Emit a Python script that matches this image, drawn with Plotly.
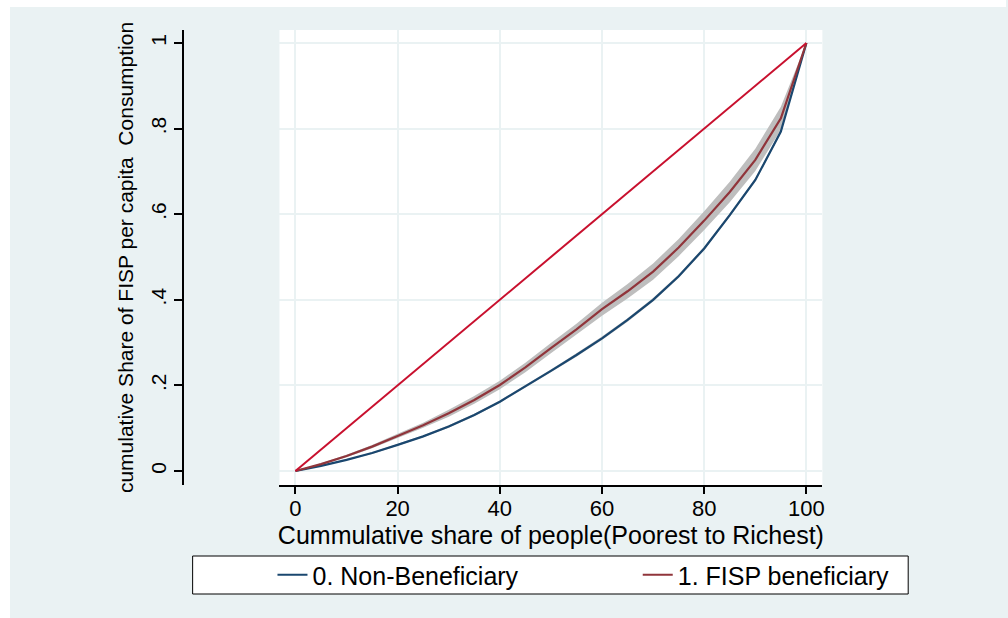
import plotly.graph_objects as go

# ---------------- data ----------------
pop_share = [0, 5, 10, 15, 20, 25, 30, 35, 40, 45, 50, 55, 60, 65, 70, 75, 80, 85, 90, 95, 100]

non_benef = [0, 0.012, 0.026, 0.042, 0.061, 0.081, 0.104, 0.131, 0.162, 0.197, 0.234,
             0.271, 0.310, 0.353, 0.400, 0.455, 0.520, 0.598, 0.680, 0.793, 1.0]
non_benef_lo = [0, 0.011, 0.025, 0.040, 0.059, 0.079, 0.101, 0.128, 0.159, 0.194, 0.231,
                0.267, 0.306, 0.349, 0.396, 0.451, 0.516, 0.594, 0.676, 0.789, 1.0]
non_benef_hi = [0, 0.013, 0.027, 0.044, 0.063, 0.083, 0.107, 0.134, 0.165, 0.200, 0.237,
                0.275, 0.314, 0.357, 0.404, 0.459, 0.524, 0.602, 0.684, 0.797, 1.0]

fisp_benef = [0, 0.016, 0.035, 0.057, 0.082, 0.107, 0.135, 0.166, 0.201, 0.242, 0.287,
              0.331, 0.378, 0.420, 0.466, 0.522, 0.585, 0.652, 0.727, 0.824, 1.0]
fisp_lo = [0, 0.014, 0.032, 0.053, 0.077, 0.101, 0.127, 0.157, 0.191, 0.231, 0.275,
           0.318, 0.363, 0.403, 0.447, 0.502, 0.563, 0.628, 0.701, 0.797, 1.0]
fisp_hi = [0, 0.018, 0.038, 0.061, 0.087, 0.113, 0.143, 0.175, 0.211, 0.253, 0.299,
           0.344, 0.393, 0.437, 0.485, 0.542, 0.607, 0.676, 0.753, 0.851, 1.0]

equality_x = [0, 100]
equality_y = [0, 1]

x_ticks = [0, 20, 40, 60, 80, 100]
y_ticks = [0, 0.2, 0.4, 0.6, 0.8, 1.0]
y_tick_labels = ["0", ".2", ".4", ".6", ".8", "1"]

series_names = ["0. Non-Beneficiary", "1. FISP beneficiary"]
x_title = "Cummulative share of people(Poorest to Richest)"
y_title = "cumulative Share of FISP per capita  Consumption"

# ---------------- style ----------------
W, H = 1008, 618
ML, MR, MT, MB = 10, 0, 30, 133
PW, PH = W - ML - MR, H - MT - MB
BG = "#EAF2F3"
NAVY = "#1A476F"
MAROON = "#90353B"
DIAG = "#C8102E"
BAND = "#BEBEBE"
FONT = "Liberation Sans, Arial, sans-serif"


def px_x(p):
    return (p - ML) / PW


def px_y(p):
    return (H - MB - p) / PH


fig = go.Figure()

# confidence bands
for lo, hi in [(non_benef_lo, non_benef_hi), (fisp_lo, fisp_hi)]:
    fig.add_trace(go.Scatter(x=pop_share, y=lo, mode="lines", line=dict(width=0, color=BAND),
                             showlegend=False, hoverinfo="skip"))
    fig.add_trace(go.Scatter(x=pop_share, y=hi, mode="lines", line=dict(width=0, color=BAND),
                             fill="tonexty", fillcolor=BAND, showlegend=False, hoverinfo="skip"))

fig.add_trace(go.Scatter(x=pop_share, y=non_benef, mode="lines", name=series_names[0],
                         line=dict(color=NAVY, width=2.2), legend="legend"))
fig.add_trace(go.Scatter(x=pop_share, y=fisp_benef, mode="lines", name=series_names[1],
                         line=dict(color=MAROON, width=2.2), legend="legend2"))
fig.add_trace(go.Scatter(x=equality_x, y=equality_y, mode="lines", showlegend=False,
                         line=dict(color=DIAG, width=2)))

shapes = [
    # white outer margins (top & left)
    dict(type="rect", xref="paper", yref="paper", x0=px_x(0), x1=px_x(10), y0=px_y(H), y1=px_y(0),
         fillcolor="white", line=dict(width=0), layer="above"),
    dict(type="rect", xref="paper", yref="paper", x0=px_x(0), x1=px_x(W), y0=px_y(7), y1=px_y(0),
         fillcolor="white", line=dict(width=0), layer="above"),
    # legend frame
    dict(type="rect", xref="paper", yref="paper", x0=px_x(193), x1=px_x(910), y0=px_y(594), y1=px_y(556),
         fillcolor="white", line=dict(color="black", width=1), layer="above"),
]

legend_common = dict(orientation="h", yanchor="middle", xanchor="left", y=px_y(575),
                     bgcolor="rgba(0,0,0,0)", borderwidth=0,
                     font=dict(family=FONT, size=25, color="black"))

fig.update_layout(
    width=W, height=H,
    margin=dict(l=ML, r=MR, t=MT, b=MB, pad=0),
    paper_bgcolor=BG, plot_bgcolor="white",
    font=dict(family=FONT, color="black"),
    shapes=shapes,
    showlegend=True,
    legend=dict(x=px_x(273), **legend_common),
    legend2=dict(x=px_x(639), **legend_common),
    xaxis=dict(domain=[px_x(280), px_x(824)], range=[-3.125, 103.125], tickvals=x_ticks,
               showgrid=True, gridcolor=BG, gridwidth=2, zeroline=False,
               showline=True, linecolor="black", linewidth=1.5, mirror=False,
               ticks="outside", ticklen=7, tickwidth=1.5, tickcolor="black",
               ticklabelstandoff=-4,
               tickfont=dict(family=FONT, size=22, color="black"),
               title=dict(text=x_title, font=dict(family=FONT, size=25, color="black"), standoff=0)),
    yaxis=dict(domain=[0, 1], range=[-0.0327, 1.0304], anchor="free", position=px_x(183),
               tickvals=y_ticks, ticktext=y_tick_labels, tickangle=-90,
               showgrid=True, gridcolor=BG, gridwidth=2, zeroline=False,
               showline=True, linecolor="black", linewidth=1.5,
               ticks="outside", ticklen=8, tickwidth=1.5, tickcolor="black",
               tickfont=dict(family=FONT, size=21, color="black"),
               title=dict(text=y_title, font=dict(family=FONT, size=21, color="black"), standoff=6)),
)

fig.write_html("out.html")
